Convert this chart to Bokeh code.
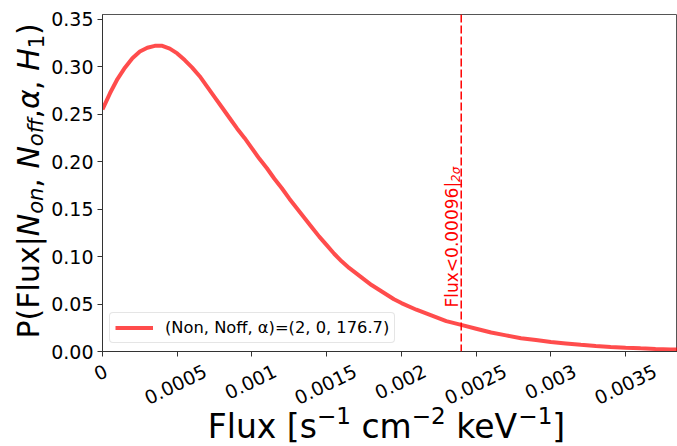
import math
from bokeh.plotting import figure
from bokeh.layouts import column, row
from bokeh.models import (Range1d, FixedTicker, Label, Span, NumeralTickFormatter,
                          CustomLabelingPolicy)
from bokeh.embed import file_html
from bokeh.resources import INLINE

# ---------------- data ----------------
flux = [0.0, 0.00005, 0.0001, 0.00015, 0.0002, 0.00025, 0.0003, 0.00035, 0.0004, 0.00045,
        0.0005, 0.00055, 0.0006, 0.00065, 0.0007, 0.00075, 0.0008, 0.00085, 0.0009, 0.00095,
        0.0010, 0.00105, 0.0011, 0.00115, 0.0012, 0.00125, 0.0013, 0.00135, 0.0014, 0.00145,
        0.0015, 0.00155, 0.0016, 0.00165, 0.0017, 0.00175, 0.0018, 0.00185, 0.0019, 0.00195,
        0.0020, 0.0021, 0.0022, 0.0023, 0.0024, 0.0025, 0.0026, 0.0027, 0.0028, 0.0029,
        0.0030, 0.0031, 0.0032, 0.0033, 0.0034, 0.0035, 0.0036, 0.0037, 0.0038, 0.00385]
prob = [0.255, 0.272, 0.287, 0.299, 0.309, 0.316, 0.320, 0.322, 0.322, 0.319,
        0.314, 0.307, 0.299, 0.290, 0.279, 0.268, 0.257, 0.246, 0.235, 0.225,
        0.214, 0.203, 0.193, 0.182, 0.172, 0.161, 0.151, 0.141, 0.131, 0.121,
        0.112, 0.103, 0.095, 0.088, 0.082, 0.076, 0.070, 0.065, 0.060, 0.055,
        0.051, 0.044, 0.038, 0.032, 0.028, 0.024, 0.020, 0.017, 0.014, 0.012,
        0.010, 0.0085, 0.0070, 0.0058, 0.0048, 0.0040, 0.0033, 0.0027, 0.0022, 0.0020]
series_label = "(Non, Noff, α)=(2, 0, 176.7)"

flux_limit = 0.0024
limit_text = "Flux<0.00096|"
limit_sub = "2σ"

x_ticks = [0.0, 0.0005, 0.001, 0.0015, 0.002, 0.0025, 0.003, 0.0035]
x_tick_labels = ["0", "0.0005", "0.001", "0.0015", "0.002", "0.0025", "0.003", "0.0035"]
y_ticks = [0.0, 0.05, 0.10, 0.15, 0.20, 0.25, 0.30, 0.35]

x_min, x_max = 0.0, 0.003847
y_min, y_max = 0.0, 0.355

FONT = "DejaVu Sans"

# DejaVu Sans advance widths (units per 2048 em) for composing rich labels
ADV = {" ": 651, "(": 799, ")": 799, "[": 799, "]": 799, ",": 651, ".": 651, "|": 690,
       "−": 1716, "<": 1716, "=": 1716, "F": 1178, "P": 1235, "N": 1532, "H": 1540,
       "V": 1401, "l": 569, "u": 1298, "x": 1212, "s": 1067, "c": 1126, "m": 1995,
       "k": 1186, "e": 1260, "o": 1253, "n": 1298, "f": 721, "α": 1300, "σ": 1300}
for d in "0123456789":
    ADV[d] = 1303


def tw(s, size):
    return sum(ADV.get(ch, 1250) for ch in s) / 2048.0 * size


# the SVG text of a Label sits lower than its nominal alphabetic baseline; compensate
BASE_FIX = 0.26

# ---------------- layout geometry ----------------
W, H = 677, 446
LEFT_W = 48            # strip holding the y title
FRAME_L, FRAME_T, FRAME_B = 100, 14, 351
GAP = 10               # below main frame (x ticks, room for the "0.00" label)
FRAME_W = W - FRAME_L
MAIN_H = FRAME_B + GAP
BOT_H = H - MAIN_H


def bare(fig):
    fig.background_fill_color = "white"
    fig.border_fill_color = "white"
    fig.outline_line_color = None
    fig.xgrid.visible = False
    fig.ygrid.visible = False


# ---------------- main plot ----------------
p = figure(width=W - LEFT_W, height=MAIN_H, output_backend="svg", toolbar_location=None,
           x_range=Range1d(x_min, x_max), y_range=Range1d(y_min, y_max),
           min_border_left=FRAME_L - LEFT_W, min_border_right=0, min_border_top=FRAME_T,
           min_border_bottom=GAP)
p.background_fill_color = "white"
p.border_fill_color = "white"
p.outline_line_color = "#555555"
p.outline_line_width = 1
p.xgrid.visible = False
p.ygrid.visible = False

for ax in (p.xaxis[0], p.yaxis[0]):
    ax.axis_line_color = "#333333"
    ax.axis_line_width = 1
    ax.major_tick_line_color = "#333333"
    ax.major_tick_out = 5
    ax.major_tick_in = 0
    ax.minor_tick_line_color = None
    ax.major_label_text_font = FONT
    ax.major_label_text_font_size = "19px"
    ax.major_label_text_color = "black"

p.yaxis.ticker = FixedTicker(ticks=y_ticks)
p.yaxis.formatter = NumeralTickFormatter(format="0.00")
p.yaxis.major_label_standoff = 4

# x axis: ticks only here; its (rotated, centred) labels are drawn in the strip below
p.xaxis.ticker = FixedTicker(ticks=x_ticks)
p.xaxis.major_label_standoff = 0
p.xaxis.major_label_text_font_size = "0px"
p.xaxis.major_label_policy = CustomLabelingPolicy(code="""
try { for (const i of Array.from(indices)) { indices.unset(i) } } catch (e) {
  try { for (const i of Array.from(indices)) { indices.set(i, false) } } catch (e2) {} }
return indices
""")

p.line(flux, prob, line_color="red", line_alpha=0.7, line_width=4,
       legend_label=series_label)

p.add_layout(Span(location=flux_limit, dimension="height", line_color="red",
                  line_width=1.5, line_dash="8 3"))

lg = p.legend[0]
lg.location = (7, 8)
lg.label_text_font = FONT
lg.label_text_font_size = "16.3px"
lg.label_text_color = "black"
lg.glyph_width = 38
lg.glyph_height = 19
lg.label_height = 19
lg.label_standoff = 12
lg.padding = 5
lg.margin = 0
lg.spacing = 0
lg.border_line_color = "#cccccc"
lg.border_line_width = 1
lg.background_fill_color = "white"
lg.background_fill_alpha = 0.8
try:
    lg.border_radius = 4
except Exception:
    pass


def place_vertical(fig, segs, size, x0, y0, color, x_units="screen", xval=None):
    """Rotated (bottom-to-top) rich text; subscripts shift to the right."""
    cur = y0
    for s, sc, st, sh in segs:
        fs = size * sc
        if s.strip():
            dx = sh * 0.18 * size - BASE_FIX * fs
            if x_units == "data":
                lab = Label(x=xval, y=cur, x_units="data", y_units="screen",
                            x_offset=x0 + dx)
            else:
                lab = Label(x=x0 + dx, y=cur, x_units="screen", y_units="screen")
            lab.update(text=s, angle=math.pi / 2, text_align="left",
                       text_baseline="alphabetic", text_font=FONT,
                       text_font_size=f"{fs:.1f}px", text_font_style=st,
                       text_color=color)
            fig.add_layout(lab)
        cur += tw(s, fs)


def place_horizontal(fig, segs, size, cx, y0, color):
    total = sum(tw(s, size * sc) for s, sc, _, _ in segs)
    cur = cx - total / 2.0
    for s, sc, st, sh in segs:
        fs = size * sc
        if s.strip():
            fig.add_layout(Label(x=cur, y=y0 + sh * 0.42 * size + BASE_FIX * fs,
                                 x_units="screen", y_units="screen", text=s,
                                 text_align="left", text_baseline="alphabetic",
                                 text_font=FONT, text_font_size=f"{fs:.1f}px",
                                 text_font_style=st, text_color=color))
        cur += tw(s, fs)


# upper-limit annotation (rotated, red), baseline 5 px left of the line
place_vertical(p, [(limit_text, 1.0, "normal", 0), (limit_sub, 0.7, "italic", 1)],
               17, -5, 44, "red", x_units="data", xval=flux_limit)

# ---------------- left strip: y title ----------------
pl = figure(width=LEFT_W, height=MAIN_H, output_backend="svg", toolbar_location=None,
            x_range=Range1d(0, 1), y_range=Range1d(0, 1), x_axis_location=None,
            y_axis_location=None, min_border=0)
bare(pl)
y_segs = [("P(Flux|", 1.0, "normal", 0), ("N", 1.0, "italic", 0), ("on", 0.7, "italic", 1),
          (",", 1.0, "normal", 0), (" ", 1.0, "normal", 0),
          ("N", 1.0, "italic", 0), ("off", 0.7, "italic", 1),
          (",", 1.0, "normal", 0), ("α", 1.0, "italic", 0), (",", 1.0, "normal", 0),
          (" ", 1.0, "normal", 0), ("H", 1.0, "italic", 0), ("1", 0.7, "normal", 1),
          (")", 1.0, "normal", 0)]
place_vertical(pl, y_segs, 30, 36, GAP + 3, "black")

# ---------------- bottom strip: x tick labels and x title ----------------
px_per_unit = FRAME_W / (x_max - x_min)
pb = figure(width=W, height=BOT_H, output_backend="svg", toolbar_location=None,
            x_range=Range1d(x_min - FRAME_L / px_per_unit, x_max), y_range=Range1d(0, 1),
            x_axis_location=None, y_axis_location=None, min_border=0)
bare(pb)

ang = math.radians(26)
for t, lab in zip(x_ticks, x_tick_labels):
    w = tw(lab, 19)
    cy = FRAME_B + 12 + (w * math.sin(ang) + 13.9 * math.cos(ang)) / 2.0
    pb.add_layout(Label(x=t, y=H - cy, x_units="data", y_units="screen", text=lab,
                        angle=ang, text_align="center", text_baseline="middle",
                        text_font=FONT, text_font_size="19px", text_color="black"))

x_segs = [("Flux", 1.0, "normal", 0), (" ", 1.0, "normal", 0), ("[s", 1.0, "normal", 0),
          ("−1", 0.7, "normal", 1), (" ", 1.0, "normal", 0), ("cm", 1.0, "normal", 0),
          ("−2", 0.7, "normal", 1), (" ", 1.0, "normal", 0), ("keV", 1.0, "normal", 0),
          ("−1", 0.7, "normal", 1), ("]", 1.0, "normal", 0)]
place_horizontal(pb, x_segs, 33, 386, H - 435, "black")

layout = column(row(pl, p, spacing=0), pb, spacing=0)
open("out.html", "w").write(file_html(layout, INLINE))
